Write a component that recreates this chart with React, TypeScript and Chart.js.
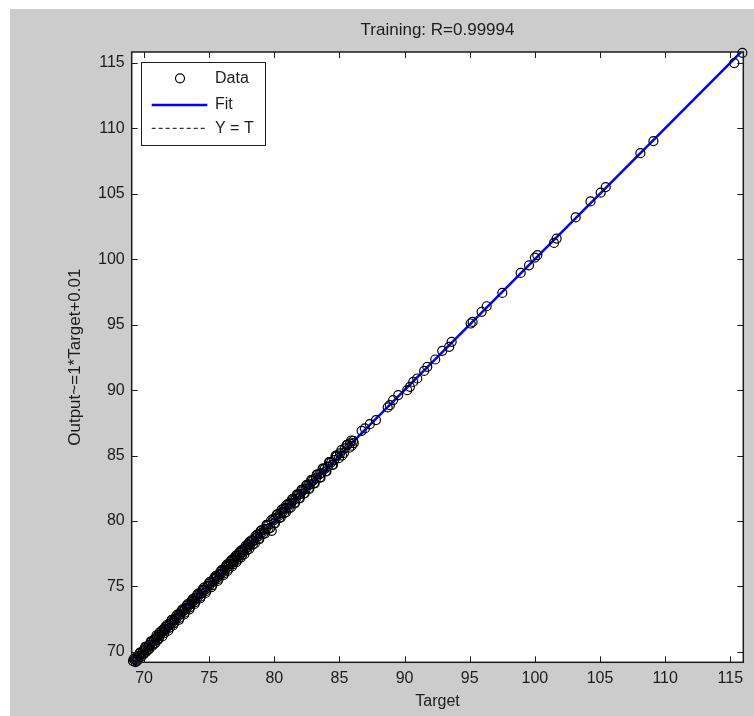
import React, { useEffect, useRef } from "react";
import { Chart, registerables } from "chart.js";

Chart.register(...registerables);

// ---------------- data ----------------
const titleText = "Training: R=0.99994";
const xAxisLabel = "Target";
const yAxisLabel = "Output~=1*Target+0.01";
const legendLabels = ["Data", "Fit", "Y = T"];

const xTickValues = [70, 75, 80, 85, 90, 95, 100, 105, 110, 115];
const yTickValues = [70, 75, 80, 85, 90, 95, 100, 105, 110, 115];

const xLimits = [69.05, 116.0];
const yLimits = [69.2, 115.84];

const fitSlope = 1;
const fitIntercept = 0.01;

const targets = [
  69.15, 69.3, 69.42, 69.5, 69.63, 69.71, 69.85, 69.94, 70.05, 70.12,
  70.26, 70.35, 70.48, 70.55, 70.7, 70.78, 70.9, 71.02, 71.1, 71.25,
  71.33, 71.47, 71.58, 71.66, 71.8, 71.92, 72.0, 72.15, 72.28, 72.36,
  72.5, 72.64, 72.75, 72.9, 73.02, 73.15, 73.3, 73.42, 73.55, 73.7,
  73.82, 73.95, 74.1, 74.22, 74.4, 74.55, 74.68, 74.85, 75.0, 75.12,
  75.3, 75.45, 75.56, 75.6, 75.78, 75.9, 76.05, 76.2, 76.32, 76.45,
  76.55, 76.68, 76.8, 76.9, 77.02, 77.13, 77.25, 77.36, 77.48, 77.6,
  77.75, 77.88, 78.0, 78.15, 78.3, 78.42, 78.6, 78.75, 78.9, 79.05,
  79.2, 79.35, 79.5, 79.8, 79.95, 80.1, 80.3, 80.45, 80.62, 80.8,
  80.95, 81.15, 81.3, 81.5, 81.65, 81.85, 82.0, 82.2, 82.4, 82.6,
  82.75, 82.95, 83.2, 83.45, 83.6, 83.85, 84.1, 84.35, 84.6, 84.75,
  85.04, 85.42, 85.8, 86.7, 86.95, 87.33, 87.8, 88.7, 88.87, 89.12,
  89.51, 90.2, 90.41, 90.66, 90.97, 91.5, 91.74, 92.35, 92.89, 93.42,
  93.61, 95.07, 95.22, 95.91, 96.3, 97.5, 98.91, 99.55, 100.0, 100.19,
  101.47, 101.67, 103.13, 104.27, 105.05, 105.44, 108.1, 109.1, 115.31, 115.93,
  69.35, 69.55, 69.78, 70.0, 70.18, 70.4, 70.62, 70.85, 71.05, 71.2,
  71.4, 71.62, 71.85, 72.08, 72.22, 72.45, 72.68, 72.85, 73.08, 73.25,
  73.48, 73.65, 73.88, 74.05, 74.3, 74.48, 74.72, 74.95, 75.18, 75.38,
  75.65, 75.85, 76.1, 76.28, 76.4, 76.62, 76.75, 76.95, 77.08, 77.3,
  77.42, 77.55, 77.7, 77.95, 78.08, 78.25, 78.5, 78.68, 78.85, 79.0,
  79.28, 79.42, 79.7, 79.9, 80.05, 80.25, 80.5, 80.7, 80.88, 81.05,
  81.25, 81.42, 81.58, 81.78, 81.95, 82.12, 82.32, 82.5, 82.68, 82.88,
  83.1, 83.3, 83.55, 83.75, 84.0, 84.25, 84.5, 84.8, 85.2, 85.6,
  85.95, 86.05,
  69.2, 69.45, 69.68, 69.9, 70.08, 70.3, 70.52, 70.75, 70.95, 71.15,
  71.38, 71.55, 71.75, 71.98, 72.12, 72.32, 72.55, 72.72, 72.95, 73.12,
  73.35, 73.52, 73.75, 73.92, 74.15, 74.35, 74.6, 74.78, 75.05, 75.25,
  75.5, 75.72, 75.95, 76.15, 76.38, 76.5, 76.72, 76.85, 77.05, 77.2,
  77.4, 77.52, 77.8, 77.92, 78.1, 78.35, 78.55, 78.8, 78.95, 79.15,
  79.4, 79.55, 79.75, 80.0, 80.18, 80.38, 80.55, 80.75, 80.92, 81.1,
  81.35, 81.55, 81.72, 81.9, 82.08, 82.28, 82.45, 82.65, 82.82, 83.05,
  83.25, 83.5, 83.7, 83.95, 84.2, 84.45, 84.7, 84.95, 85.15, 85.35,
  85.55, 85.75, 85.9, 86.1,
];

const outputs = [
  69.29, 69.38, 69.61, 69.57, 69.7, 69.9, 69.93, 70.1, 70.14, 70.3,
  70.31, 70.52, 70.55, 70.74, 70.76, 70.95, 71.02, 71.12, 71.3, 71.31,
  71.5, 71.55, 71.76, 71.72, 71.96, 72.0, 72.18, 72.22, 72.4, 72.5,
  72.58, 72.8, 72.82, 73.05, 73.1, 73.3, 73.36, 73.58, 73.62, 73.84,
  73.9, 74.1, 74.16, 74.38, 74.45, 74.7, 74.74, 74.98, 75.06, 75.27,
  75.35, 75.6, 75.75, 75.66, 75.9, 75.96, 76.2, 76.25, 76.48, 76.5,
  76.7, 76.72, 76.96, 76.95, 77.18, 77.2, 77.4, 77.42, 77.62, 77.65,
  77.9, 77.93, 78.15, 78.2, 78.44, 78.48, 78.73, 78.8, 79.04, 79.1,
  79.34, 79.4, 79.63, 79.25, 80.05, 80.2, 80.36, 80.58, 80.68, 80.93,
  81.0, 81.27, 81.36, 81.62, 81.7, 81.97, 82.06, 82.32, 82.45, 82.72,
  82.8, 83.07, 83.26, 83.56, 83.66, 83.97, 84.15, 84.46, 84.66, 84.91,
  85.17, 85.55, 85.93, 86.89, 87.07, 87.4, 87.71, 88.68, 88.85, 89.24,
  89.62, 90.0, 90.25, 90.63, 90.89, 91.47, 91.78, 92.34, 93.0, 93.31,
  93.69, 95.09, 95.21, 95.98, 96.41, 97.43, 98.96, 99.54, 100.13, 100.31,
  101.25, 101.58, 103.2, 104.42, 105.09, 105.52, 108.11, 109.03, 114.99, 115.78,
  69.22, 69.4, 69.62, 69.85, 70.02, 70.22, 70.45, 70.66, 70.9, 71.48,
  71.18, 71.9, 71.62, 72.35, 72.02, 72.72, 72.45, 73.12, 72.86, 73.52,
  73.25, 73.92, 73.66, 74.32, 74.08, 74.75, 74.5, 75.22, 74.95, 75.65,
  75.42, 76.12, 75.86, 76.55, 76.18, 76.9, 76.52, 77.22, 76.85, 77.58,
  77.2, 77.82, 77.46, 78.22, 77.86, 78.52, 78.28, 78.95, 78.62, 79.28,
  79.05, 79.68, 79.48, 80.15, 79.82, 80.5, 80.28, 80.95, 80.65, 81.3,
  81.02, 81.68, 81.35, 82.02, 81.72, 82.38, 82.1, 82.75, 82.45, 83.12,
  82.88, 83.55, 83.32, 84.0, 83.78, 84.5, 84.28, 85.02, 85.0, 85.82,
  85.75, 86.12,
  69.45, 69.3, 69.95, 69.78, 70.38, 70.15, 70.8, 70.58, 71.25, 71.05,
  71.65, 71.42, 72.05, 71.85, 72.45, 72.2, 72.85, 72.6, 73.25, 73.0,
  73.65, 73.4, 74.05, 73.8, 74.45, 74.22, 74.9, 74.65, 75.35, 75.1,
  75.8, 75.58, 76.25, 76.0, 76.68, 76.35, 77.02, 76.7, 77.35, 77.05,
  77.7, 77.38, 78.1, 77.78, 78.4, 78.2, 78.85, 78.65, 79.25, 79.0,
  79.7, 79.4, 80.05, 79.85, 80.48, 80.22, 80.85, 80.6, 81.22, 80.95,
  81.65, 81.4, 82.02, 81.75, 82.38, 82.12, 82.75, 82.5, 83.12, 82.9,
  83.55, 83.35, 84.0, 83.8, 84.5, 84.3, 84.98, 84.8, 85.42, 85.2,
  85.8, 85.6, 86.15, 85.95,
];

// ---------------- styles ----------------
const FONT = '"Liberation Sans", Arial, Helvetica, sans-serif';
const INK = "#1c1c1c";
const FIT_BLUE = "#0000ff";

const CANVAS_W = 744;
const CANVAS_H = 707;
const Y_AXIS_W = 121.7;
const X_AXIS_H = 53.7;
const TOP_H = 43;
const RIGHT_PAD = 10.7;

const plotDecor = {
  id: "plotDecor",
  beforeDatasetsDraw(chart: any) {
    const { ctx, chartArea: a } = chart;
    ctx.save();
    ctx.fillStyle = "#ffffff";
    ctx.fillRect(a.left, a.top, a.right - a.left, a.bottom - a.top);
    ctx.restore();
  },
  afterDatasetsDraw(chart: any) {
    const { ctx, chartArea: a, scales } = chart;
    ctx.save();
    // inward tick marks on all four sides
    const TL = 6;
    ctx.strokeStyle = INK;
    ctx.lineWidth = 1;
    ctx.beginPath();
    for (const v of xTickValues) {
      const px = Math.round(scales.x.getPixelForValue(v)) + 0.5;
      ctx.moveTo(px, a.bottom);
      ctx.lineTo(px, a.bottom - TL);
      ctx.moveTo(px, a.top);
      ctx.lineTo(px, a.top + TL);
    }
    for (const v of yTickValues) {
      const py = Math.round(scales.y.getPixelForValue(v)) + 0.5;
      ctx.moveTo(a.left, py);
      ctx.lineTo(a.left + TL, py);
      ctx.moveTo(a.right, py);
      ctx.lineTo(a.right - TL, py);
    }
    ctx.stroke();
    // frame
    ctx.lineWidth = 1.5;
    ctx.strokeRect(a.left, a.top, a.right - a.left, a.bottom - a.top);

    // legend box
    const lx = a.left + 9.6;
    const ly = a.top + 9.7;
    const lw = 124.4;
    const lh = 83.3;
    ctx.fillStyle = "#ffffff";
    ctx.fillRect(lx, ly, lw, lh);
    ctx.lineWidth = 1;
    ctx.strokeStyle = INK;
    ctx.strokeRect(Math.round(lx) + 0.5, Math.round(ly) + 0.5, Math.round(lw), Math.round(lh));
    const rowY = [ly + 16.6, ly + 43.3, ly + 66.6];
    const s0 = lx + 10.4;
    const s1 = lx + 66;
    // Data marker
    ctx.beginPath();
    ctx.arc(lx + 38.7, rowY[0], 4.5, 0, Math.PI * 2);
    ctx.strokeStyle = "#000";
    ctx.lineWidth = 1.2;
    ctx.stroke();
    // Fit sample
    ctx.beginPath();
    ctx.moveTo(s0, rowY[1]);
    ctx.lineTo(s1, rowY[1]);
    ctx.strokeStyle = FIT_BLUE;
    ctx.lineWidth = 2.5;
    ctx.stroke();
    // Y = T sample
    ctx.beginPath();
    ctx.setLineDash([4, 3]);
    ctx.moveTo(s0, rowY[2]);
    ctx.lineTo(s1, rowY[2]);
    ctx.strokeStyle = "#000";
    ctx.lineWidth = 1;
    ctx.stroke();
    ctx.setLineDash([]);
    // texts
    ctx.fillStyle = INK;
    ctx.font = `16px ${FONT}`;
    ctx.textBaseline = "middle";
    ctx.textAlign = "left";
    legendLabels.forEach((t, i) => ctx.fillText(t, lx + 73.7, rowY[i]));
    ctx.restore();
  },
};

export default function App() {
  const ref = useRef<HTMLCanvasElement | null>(null);

  useEffect(() => {
    if (!ref.current) return;
    const points = targets.map((t, i) => ({ x: t, y: outputs[i] }));
    const fitLine = xLimits.map((x) => ({ x, y: fitSlope * x + fitIntercept }));
    const identityLine = xLimits.map((x) => ({ x, y: x }));
    const tickFont = { family: FONT, size: 16 };

    const chart = new Chart(ref.current, {
      type: "scatter",
      data: {
        datasets: [
          {
            label: legendLabels[0],
            data: points,
            order: 0,
            pointStyle: "circle",
            pointRadius: 4.5,
            pointBorderWidth: 1.2,
            pointBorderColor: "#000",
            pointBackgroundColor: "rgba(0,0,0,0)",
            showLine: false,
            clip: false as any,
          },
          {
            label: legendLabels[1],
            data: fitLine,
            order: 1,
            showLine: true,
            borderColor: FIT_BLUE,
            borderWidth: 2.5,
            pointRadius: 0,
            clip: 0 as any,
          },
          {
            label: legendLabels[2],
            data: identityLine,
            order: 2,
            showLine: true,
            borderColor: "#000",
            borderWidth: 1,
            borderDash: [4, 3],
            pointRadius: 0,
            clip: 0 as any,
          },
        ],
      },
      options: {
        animation: false,
        responsive: false,
        devicePixelRatio: 1,
        layout: { padding: { left: 0, top: 0, bottom: 0, right: RIGHT_PAD } },
        plugins: {
          legend: { display: false },
          tooltip: { enabled: false },
          title: { display: false },
        },
        scales: {
          x: {
            type: "linear",
            position: "bottom",
            min: xLimits[0],
            max: xLimits[1],
            afterBuildTicks: (s: any) => {
              s.ticks = xTickValues.map((v) => ({ value: v }));
            },
            afterFit: (s: any) => {
              s.height = X_AXIS_H;
            },
            grid: { display: false, drawTicks: false },
            border: { display: false },
            ticks: {
              color: INK,
              font: tickFont,
              padding: 7,
              maxRotation: 0,
              autoSkip: false,
              callback: (v: any) => String(v),
            },
            title: {
              display: true,
              text: xAxisLabel,
              color: INK,
              font: { family: FONT, size: 16 },
              padding: { top: 0, bottom: 4.4 },
            },
          },
          x2: {
            type: "linear",
            position: "top",
            min: xLimits[0],
            max: xLimits[1],
            afterFit: (s: any) => {
              s.height = TOP_H;
            },
            grid: { display: false, drawTicks: false },
            border: { display: false },
            ticks: { display: false },
            title: {
              display: true,
              text: titleText,
              color: INK,
              font: { family: FONT, size: 17 },
              padding: { top: 11.3, bottom: 0 },
            },
          },
          y: {
            type: "linear",
            position: "left",
            min: yLimits[0],
            max: yLimits[1],
            afterBuildTicks: (s: any) => {
              s.ticks = yTickValues.map((v) => ({ value: v }));
            },
            afterFit: (s: any) => {
              s.width = Y_AXIS_W;
            },
            grid: { display: false, drawTicks: false },
            border: { display: false },
            ticks: {
              color: INK,
              font: tickFont,
              padding: 7,
              autoSkip: false,
              callback: (v: any) => String(v),
            },
            title: {
              display: true,
              text: yAxisLabel,
              color: INK,
              font: { family: FONT, size: 17 },
              padding: { top: 55, bottom: 0 },
            },
          },
        },
      } as any,
      plugins: [plotDecor],
    });
    return () => chart.destroy();
  }, []);

  return (
    <div
      style={{
        position: "absolute",
        left: 10,
        top: 9,
        width: CANVAS_W,
        height: CANVAS_H,
        background: "#cccccc",
        overflow: "hidden",
      }}
    >
      <canvas
        ref={ref}
        width={CANVAS_W}
        height={CANVAS_H}
        style={{ display: "block", width: CANVAS_W, height: CANVAS_H }}
      />
    </div>
  );
}
